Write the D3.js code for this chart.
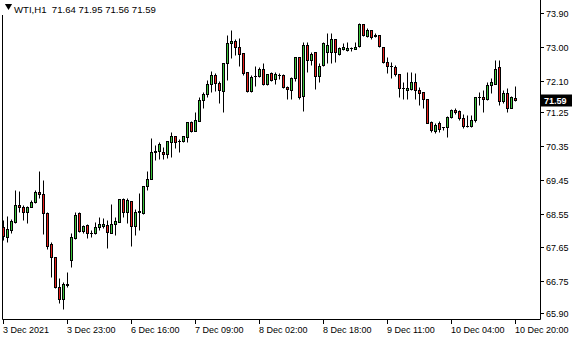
<!DOCTYPE html>
<html>
<head>
<meta charset="utf-8">
<script src="https://cdn.jsdelivr.net/npm/d3@7/dist/d3.min.js"></script>
<style>
  body { margin: 0; background: #fff; }
  text { font-family: "Liberation Sans", Arial, sans-serif; font-size: 9px; fill: #000; }
</style>
</head>
<body>
<div id="chart"></div>
<script>
// WTI H1 bars
const opens = [
  68.19, 67.94, 68.11, 68.34, 68.78, 68.74, 68.60, 68.74, 68.85, 69.12,
  69.07, 68.58, 67.73, 67.40, 66.59, 66.27, 66.66, 67.31, 67.89, 68.56,
  68.10, 68.25, 68.03, 68.03, 68.18, 68.22, 68.24, 68.04, 68.27, 68.34,
  68.94, 68.59, 68.89, 68.23, 68.59, 68.58, 69.29, 69.47, 70.19, 70.21,
  70.18, 70.13, 70.47, 70.61, 70.49, 70.50, 70.60, 70.99, 70.76, 71.03,
  71.58, 71.74, 72.01, 72.24, 72.04, 71.83, 72.56, 73.09, 73.15, 73.00,
  72.84, 72.32, 71.82, 72.23, 72.23, 72.42, 72.02, 72.30, 72.14, 72.25,
  72.25, 71.94, 71.85, 72.16, 72.72, 71.69, 73.06, 72.66, 72.85, 72.23,
  72.51, 72.87, 72.85, 73.22, 72.82, 72.94, 72.91, 72.96, 72.94, 73.02,
  73.60, 73.30, 73.46, 73.31, 73.31, 73.00, 72.60, 72.50, 72.46, 72.27,
  71.91, 71.86, 71.87, 72.07, 71.85, 71.80, 71.60, 71.00, 70.76, 70.98,
  70.87, 70.85, 71.14, 71.31, 71.30, 71.09, 70.89, 70.89, 71.05, 71.67,
  71.67, 71.62, 71.98, 72.02, 72.47, 71.54, 71.78, 71.38, 71.64
];
const highs = [
  68.38, 68.49, 68.42, 69.18, 69.15, 68.78, 68.75, 68.91, 69.18, 69.69,
  69.45, 68.59, 67.80, 67.40, 66.83, 66.72, 66.99, 68.03, 68.60, 68.59,
  68.25, 68.27, 68.11, 68.34, 68.47, 68.43, 68.38, 68.80, 68.47, 68.94,
  68.98, 68.98, 68.89, 68.67, 69.09, 69.29, 69.69, 70.56, 70.38, 70.47,
  70.34, 70.49, 70.72, 70.61, 70.53, 70.61, 70.99, 71.02, 71.27, 71.65,
  71.80, 72.11, 72.35, 72.31, 72.09, 72.58, 73.31, 73.46, 73.22, 73.24,
  72.84, 72.32, 72.25, 72.49, 72.47, 72.58, 72.27, 72.34, 72.34, 72.29,
  72.27, 71.96, 72.20, 72.73, 72.73, 73.12, 73.14, 72.87, 72.85, 72.56,
  73.14, 73.38, 73.36, 73.22, 73.00, 73.09, 73.12, 73.00, 73.14, 73.64,
  73.62, 73.49, 73.46, 73.36, 73.31, 73.00, 72.72, 72.60, 72.51, 72.27,
  72.05, 72.34, 72.34, 72.31, 71.94, 71.80, 71.60, 71.02, 70.96, 71.02,
  70.87, 71.16, 71.34, 71.38, 71.31, 71.21, 71.18, 71.18, 71.67, 71.80,
  71.85, 72.05, 72.16, 72.65, 72.65, 71.85, 71.89, 71.70, 71.95
];
const lows = [
  67.85, 67.80, 68.03, 68.29, 68.60, 68.38, 68.31, 68.72, 68.84, 68.96,
  68.00, 67.61, 66.87, 66.56, 66.16, 66.00, 66.60, 67.14, 67.87, 68.06,
  68.03, 67.89, 67.94, 68.01, 68.11, 68.16, 67.64, 68.03, 67.98, 68.34,
  68.47, 68.29, 67.70, 67.98, 68.11, 68.53, 69.18, 69.47, 69.98, 70.02,
  70.02, 70.04, 70.07, 70.31, 70.18, 70.47, 70.47, 70.74, 70.75, 71.03,
  71.38, 71.67, 71.80, 71.82, 71.49, 71.27, 72.11, 72.71, 72.78, 72.50,
  72.25, 71.80, 71.80, 71.96, 72.20, 71.98, 71.98, 72.09, 72.02, 72.14,
  71.89, 71.61, 71.61, 72.10, 71.62, 71.30, 72.34, 72.51, 71.87, 72.07,
  72.50, 72.58, 72.58, 72.60, 72.78, 72.91, 72.90, 72.90, 72.93, 73.00,
  73.29, 73.27, 73.22, 73.27, 73.00, 72.58, 72.31, 72.16, 72.23, 71.67,
  71.61, 71.62, 71.85, 71.62, 71.45, 71.36, 70.96, 70.74, 70.69, 70.74,
  70.78, 70.60, 71.09, 71.22, 71.06, 70.84, 70.87, 70.87, 71.00, 71.45,
  71.27, 71.58, 71.76, 72.02, 71.45, 71.49, 71.25, 71.36, 71.56
];
const closes = [
  67.95, 68.14, 68.35, 68.78, 68.72, 68.60, 68.74, 68.85, 69.12, 69.07,
  68.58, 67.70, 67.40, 66.59, 66.27, 66.67, 66.67, 67.92, 68.51, 68.09,
  68.22, 68.03, 68.03, 68.19, 68.27, 68.27, 68.07, 68.27, 68.35, 68.94,
  68.60, 68.91, 68.23, 68.59, 68.62, 69.29, 69.47, 70.19, 70.21, 70.42,
  70.13, 70.49, 70.61, 70.47, 70.50, 70.61, 70.99, 70.76, 71.05, 71.58,
  71.74, 72.01, 72.24, 72.04, 71.86, 72.58, 73.09, 73.15, 73.00, 72.82,
  72.29, 71.83, 72.18, 72.23, 72.41, 72.00, 72.27, 72.11, 72.27, 72.25,
  71.94, 71.87, 72.16, 72.72, 71.67, 73.06, 72.65, 72.82, 72.23, 72.50,
  73.09, 73.06, 73.20, 72.85, 72.98, 73.00, 72.96, 72.96, 73.00, 73.60,
  73.31, 73.46, 73.25, 73.29, 73.02, 72.60, 72.50, 72.49, 72.27, 71.91,
  71.89, 71.89, 72.07, 71.85, 71.78, 71.60, 70.98, 70.78, 70.91, 70.82,
  70.87, 71.14, 71.31, 71.27, 71.09, 70.89, 70.89, 71.05, 71.65, 71.67,
  71.62, 71.98, 72.07, 72.42, 71.54, 71.78, 71.38, 71.67, 71.59
];

// axis labels
const timeTickBars = [0, 16, 32, 48, 64, 80, 96, 112, 128];
const timeTickLabels = ["3 Dec 2021", "3 Dec 23:00", "6 Dec 16:00", "7 Dec 09:00", "8 Dec 02:00",
  "8 Dec 18:00", "9 Dec 11:00", "10 Dec 04:00", "10 Dec 20:00"];
const priceTicks = [73.90, 73.00, 72.10, 71.25, 70.35, 69.45, 68.55, 67.65, 66.75, 65.90];
const title = "WTI,H1";

const width = 580, height = 340;
const frame = { left: 2, right: 540, top: 0, bottom: 319 };
const upColor = "#3cc43c", downColor = "#e8201c";

const bars = opens.map((o, i) => ({ i, o, h: highs[i], l: lows[i], c: closes[i] }));
const last = bars[bars.length - 1];

const svg = d3.select("#chart").append("svg")
  .attr("width", width)
  .attr("height", height);

// bar index -> pixel, price -> pixel
const x = d3.scaleLinear().domain([0, 128]).range([3.5, 515.5]);
const y = d3.scaleLinear().domain([65.90, 73.90]).range([313, 13]);
const py = v => Math.round(y(v)) + 0.5;

// frame
svg.append("path")
  .attr("d", `M${frame.left + 0.5},15 V${frame.bottom + 0.5} H${frame.right + 0.5} V${frame.top}`)
  .attr("fill", "none")
  .attr("stroke", "#000");

// price axis ticks + labels
const yAxis = svg.append("g");
priceTicks.forEach(v => {
  yAxis.append("line")
    .attr("x1", frame.right + 1).attr("x2", frame.right + 4)
    .attr("y1", py(v)).attr("y2", py(v))
    .attr("stroke", "#000");
  yAxis.append("text")
    .attr("x", frame.right + 6)
    .attr("y", py(v))
    .attr("dy", "0.35em")
    .text(v.toFixed(2));
});

// last price marker
svg.append("rect")
  .attr("x", frame.right)
  .attr("y", py(last.c) - 6)
  .attr("width", 32)
  .attr("height", 12)
  .attr("fill", "#000");
svg.append("text")
  .attr("x", frame.right + 4)
  .attr("y", py(last.c))
  .attr("dy", "0.35em")
  .style("fill", "#fff")
  .style("font-weight", "bold")
  .text(last.c.toFixed(2));

// time axis ticks + labels
const xAxis = svg.append("g");
timeTickBars.forEach((b, k) => {
  xAxis.append("line")
    .attr("x1", x(b)).attr("x2", x(b))
    .attr("y1", frame.bottom + 1).attr("y2", frame.bottom + 5)
    .attr("stroke", "#000");
  xAxis.append("text")
    .attr("x", x(b) - 0.5)
    .attr("y", 333)
    .text(timeTickLabels[k]);
});

// candles
const candles = svg.append("g")
  .selectAll("g")
  .data(bars)
  .enter()
  .append("g");

candles.append("line")
  .attr("x1", d => x(d.i)).attr("x2", d => x(d.i))
  .attr("y1", d => py(d.h)).attr("y2", d => py(d.l))
  .attr("stroke", "#000");

candles.each(function (d) {
  const g = d3.select(this);
  const top = py(Math.max(d.o, d.c));
  const bot = py(Math.min(d.o, d.c));
  if (bot - top < 1) {
    // doji: just a dash
    g.append("line")
      .attr("x1", x(d.i) - 1.5).attr("x2", x(d.i) + 1.5)
      .attr("y1", top).attr("y2", top)
      .attr("stroke", "#000");
  } else {
    g.append("rect")
      .attr("x", x(d.i) - 1)
      .attr("y", top)
      .attr("width", 2)
      .attr("height", bot - top)
      .attr("fill", d.c >= d.o ? upColor : downColor)
      .attr("stroke", "#000");
  }
});

// title
svg.append("path")
  .attr("d", d3.symbol(d3.symbolTriangle, 22)())
  .attr("transform", "translate(8.5,6) rotate(180)")
  .attr("fill", "#000");
svg.append("text")
  .attr("x", 14)
  .attr("y", 13)
  .style("font-size", "9.6px")
  .style("white-space", "pre")
  .text(`${title}  ${last.o.toFixed(2)} ${last.h.toFixed(2)} ${last.l.toFixed(2)} ${last.c.toFixed(2)}`);
</script>
</body>
</html>
